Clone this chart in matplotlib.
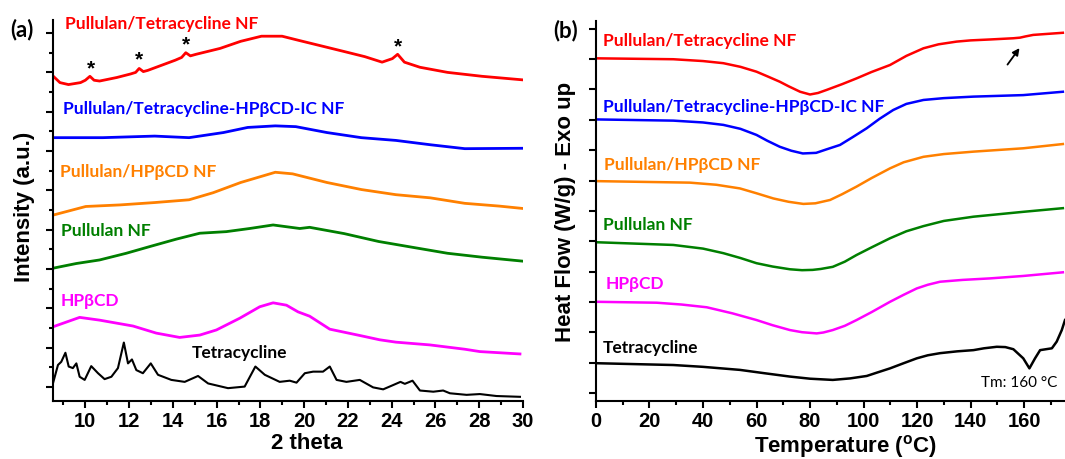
import matplotlib
matplotlib.use('Agg')
import matplotlib.pyplot as plt
from matplotlib.ticker import MultipleLocator

plt.rcParams['font.family'] = 'Liberation Sans'
plt.rcParams['font.weight'] = 'bold'
plt.rcParams['mathtext.fontset'] = 'custom'
plt.rcParams['mathtext.rm'] = 'Liberation Sans'
plt.rcParams['mathtext.bf'] = 'Liberation Sans:bold'

# ---------------- XRD data (2 theta, stacked intensity) ----------------
xrd_red_x = [8.52, 8.84, 9.23, 9.78, 10.0, 10.21, 10.4, 10.65, 11.44, 12.07, 12.3, 12.46,
             12.65, 12.85, 13.48, 14.11, 14.4, 14.59, 14.8, 15.06, 16.16, 17.10, 18.05,
             18.99, 19.78, 20.88, 21.83, 22.77, 23.56, 24.03, 24.27, 24.58, 25.29, 26.55,
             28.13, 29.98]
xrd_red_y = [7.91, 7.74, 7.69, 7.74, 7.80, 7.90, 7.80, 7.78, 7.87, 7.96, 8.00, 8.10,
             8.02, 8.05, 8.18, 8.31, 8.38, 8.50, 8.42, 8.46, 8.61, 8.79, 8.92,
             8.92, 8.81, 8.66, 8.53, 8.40, 8.26, 8.35, 8.46, 8.26, 8.13, 8.00,
             7.90, 7.81]

xrd_blue_x = [8.52, 10.8, 13.17, 14.74, 16.31, 17.42, 18.68, 19.62, 21.04, 22.61, 24.19,
              25.76, 27.34, 29.98]
xrd_blue_y = [6.34, 6.34, 6.38, 6.34, 6.47, 6.60, 6.64, 6.62, 6.47, 6.34, 6.27,
              6.16, 6.06, 6.07]

xrd_orange_x = [8.52, 10.02, 11.59, 13.17, 14.74, 15.84, 17.10, 18.68, 19.47, 21.04, 22.62,
                24.19, 25.76, 27.34, 28.91, 29.98]
xrd_orange_y = [4.37, 4.59, 4.63, 4.69, 4.76, 4.94, 5.20, 5.46, 5.42, 5.20, 5.02,
                4.89, 4.81, 4.67, 4.60, 4.54]

xrd_green_x = [8.52, 9.59, 10.65, 11.87, 12.94, 14.16, 15.23, 16.44, 17.51, 18.58, 19.80,
               20.25, 21.83, 23.40, 24.97, 26.55, 28.13, 29.98]
xrd_green_y = [3.02, 3.14, 3.23, 3.40, 3.57, 3.76, 3.91, 3.95, 4.03, 4.12, 4.03,
               4.06, 3.90, 3.70, 3.55, 3.40, 3.30, 3.20]

xrd_mag_x = [8.52, 9.74, 10.65, 12.18, 13.24, 14.31, 15.23, 15.99, 17.06, 17.97, 18.58,
             19.19, 19.72, 20.25, 21.17, 22.62, 23.45, 24.19, 25.74, 27.34, 28.03, 29.86]
xrd_mag_y = [1.53, 1.77, 1.70, 1.55, 1.37, 1.26, 1.32, 1.45, 1.75, 2.04, 2.14,
             2.08, 1.91, 1.80, 1.47, 1.30, 1.20, 1.14, 1.07, 0.96, 0.90, 0.84]

xrd_blk_x = [8.52, 8.75, 8.90, 9.09, 9.24, 9.43, 9.59, 9.74, 9.97, 10.27, 10.58, 10.88,
             11.19, 11.49, 11.76, 11.95, 12.13, 12.33, 12.63, 12.99, 13.32, 13.93, 14.54,
             15.15, 15.61, 16.52, 17.28, 17.77, 18.20, 18.88, 19.34, 19.65, 20.03, 20.41,
             20.86, 21.17, 21.48, 21.93, 22.54, 23.15, 23.61, 24.07, 24.40, 24.60, 24.95,
             25.29, 25.90, 26.35, 26.66, 27.42, 28.03, 28.79, 29.86]
xrd_blk_y = [0.09, 0.56, 0.64, 0.87, 0.52, 0.48, 0.60, 0.26, 0.18, 0.53, 0.35, 0.20,
             0.26, 0.48, 1.13, 0.60, 0.70, 0.43, 0.35, 0.60, 0.31, 0.18, 0.13,
             0.28, 0.09, -0.03, 0.01, 0.52, 0.31, 0.13, 0.16, 0.11, 0.35, 0.39,
             0.39, 0.52, 0.18, 0.13, 0.18, -0.01, -0.06, 0.05, 0.13, 0.08, 0.16,
             -0.09, -0.12, -0.09, -0.16, -0.20, -0.18, -0.23, -0.25]

star_x = [10.26, 12.43, 14.59, 24.27]
star_y = [8.09, 8.31, 8.70, 8.66]

# ---------------- DSC data (temperature, stacked heat flow) ----------------
dsc_red_t = [0, 28.9, 40, 47.6, 54, 60, 64, 68.7, 72, 76.3, 80, 83, 86.2, 92, 97.4, 103,
             109.9, 116, 122.4, 128, 134.8, 140, 147.3, 156, 158.5, 160.5, 163.4, 174.5]
dsc_red_y = [11.02, 10.99, 10.93, 10.86, 10.74, 10.58, 10.43, 10.25, 10.10, 9.92, 9.83, 9.88,
             9.98, 10.17, 10.36, 10.57, 10.80, 11.10, 11.35, 11.48, 11.57, 11.61, 11.64,
             11.68, 11.70, 11.74, 11.79, 11.86]

dsc_blue_t = [0, 28.9, 40, 47.6, 54, 60, 64, 68.7, 73, 77.3, 82.3, 86, 91.2, 96, 101.2, 106,
              111.1, 116, 122.4, 130, 141.1, 159.7, 174.5]
dsc_blue_y = [9.01, 8.97, 8.91, 8.83, 8.70, 8.50, 8.31, 8.11, 7.98, 7.89, 7.91, 8.02, 8.17,
              8.43, 8.72, 9.03, 9.32, 9.52, 9.65, 9.71, 9.76, 9.81, 9.92]

dsc_orange_t = [0, 35.1, 45, 53.8, 60, 66.3, 72, 77.5, 82, 87.5, 92, 97.4, 103, 109.9, 115,
                122.4, 130, 141.1, 159.7, 174.5]
dsc_orange_y = [6.98, 6.93, 6.86, 6.74, 6.58, 6.41, 6.30, 6.23, 6.25, 6.36, 6.55, 6.80, 7.08,
                7.40, 7.60, 7.78, 7.87, 7.95, 8.06, 8.20]

dsc_green_t = [0, 28.9, 40, 47.6, 54, 60, 66, 72.5, 77, 81, 84, 88.5, 93, 97.4, 103, 109.9,
               116, 122.4, 130, 141.1, 159.7, 174.5]
dsc_green_y = [4.97, 4.88, 4.76, 4.61, 4.45, 4.28, 4.17, 4.08, 4.05, 4.06, 4.09, 4.16, 4.33,
               4.55, 4.80, 5.10, 5.33, 5.50, 5.67, 5.81, 5.97, 6.09]

dsc_mag_t = [0, 22.7, 32, 41.4, 51, 60, 66, 72.5, 77, 82.5, 85, 88.5, 93, 97.4, 103, 109.9,
             115, 119.9, 124, 128.6, 137, 147.3, 159.7, 174.5]
dsc_mag_y = [3.01, 2.98, 2.92, 2.83, 2.63, 2.41, 2.24, 2.08, 2.01, 1.97, 2.00, 2.08, 2.22,
             2.41, 2.67, 3.01, 3.24, 3.45, 3.57, 3.67, 3.73, 3.78, 3.86, 3.98]

dsc_blk_t = [0, 28.9, 40, 53.8, 63, 72.5, 80, 88.5, 95, 101.2, 105, 109.9, 115, 119.9, 124,
             128.6, 135, 141.1, 145, 149.8, 153, 156, 159.7, 162, 164.1, 166, 170.4, 172.2,
             174.1, 175.3]
dsc_blk_y = [0.99, 0.93, 0.87, 0.77, 0.66, 0.55, 0.48, 0.44, 0.49, 0.57, 0.68, 0.82, 0.99,
             1.15, 1.25, 1.32, 1.38, 1.42, 1.48, 1.53, 1.52, 1.45, 1.15, 0.82, 1.15, 1.42,
             1.48, 1.70, 2.08, 2.41]

labels = ['Pullulan/Tetracycline NF', 'Pullulan/Tetracycline-HP\u03b2CD-IC NF',
          'Pullulan/HP\u03b2CD NF', 'Pullulan NF', 'HP\u03b2CD', 'Tetracycline']
colors = ['#ff0000', '#0000ff', '#ff8000', '#007f00', '#ff00ff', '#000000']

# label anchor points (left edge, vertical centre) in data coords
lab_a_x = [9.05, 8.99, 8.84, 8.87, 8.87, 14.84]
lab_a_y = [9.24, 7.06, 5.46, 3.96, 2.19, 0.86]
lab_b_x = [2.5, 2.5, 3.0, 2.6, 3.6, 2.6]
lab_b_y = [11.6, 9.43, 7.51, 5.54, 3.6, 1.48]

fig = plt.figure(figsize=(10.65, 4.59), dpi=100)
ax1 = fig.add_axes([0.0493, 0.1264, 0.4418, 0.829])
ax2 = fig.add_axes([0.5596, 0.1264, 0.4404, 0.828])

labfont = {'family': 'Liberation Sans', 'weight': 'bold', 'size': 16}

# ---- (a) XRD ----
xrd = [(xrd_red_x, xrd_red_y), (xrd_blue_x, xrd_blue_y), (xrd_orange_x, xrd_orange_y),
       (xrd_green_x, xrd_green_y), (xrd_mag_x, xrd_mag_y), (xrd_blk_x, xrd_blk_y)]
for (xx, yy), c in zip(xrd, colors):
    ax1.plot(xx, yy, color=c, lw=1.5 if c == '#000000' else 2.0)
for i in range(6):
    ax1.text(lab_a_x[i], lab_a_y[i], labels[i], color=colors[i], family='Lato',
             weight='bold', fontsize=12.5, ha='left', va='center')
for sx, sy in zip(star_x, star_y):
    ax1.text(sx, sy, '*', color='black', family='Liberation Sans', weight='bold',
             fontsize=15, ha='center', va='center')

ax1.set_xlim(8.5, 30)
ax1.set_ylim(-0.356, 9.32)
ax1.xaxis.set_major_locator(MultipleLocator(2))
ax1.xaxis.set_minor_locator(MultipleLocator(1))
ax1.yaxis.set_major_locator(MultipleLocator(1))
ax1.yaxis.set_minor_locator(MultipleLocator(0.5))
ax1.set_yticklabels([])
ax1.set_xlabel('2 theta', **labfont)
ax1.xaxis.set_label_coords(0.541, -0.083)
ax1.text(-0.06, 0.51, 'Intensity (a.u.)', transform=ax1.transAxes, rotation=90,
         ha='center', va='center', **labfont)
ax1.text(-0.064, 0.976, '(a)', transform=ax1.transAxes, ha='center', va='center',
         family='Lato', weight='bold', fontsize=16)

# ---- (b) DSC ----
dsc = [(dsc_red_t, dsc_red_y), (dsc_blue_t, dsc_blue_y), (dsc_orange_t, dsc_orange_y),
       (dsc_green_t, dsc_green_y), (dsc_mag_t, dsc_mag_y), (dsc_blk_t, dsc_blk_y)]
for (xx, yy), c in zip(dsc, colors):
    ax2.plot(xx, yy, color=c, lw=1.8)
for i in range(6):
    ax2.text(lab_b_x[i], lab_b_y[i], labels[i], color=colors[i], family='Lato',
             weight='bold', fontsize=12.5, ha='left', va='center')
ax2.text(144.0, 0.35, 'Tm: 160 \u00b0C', family='Lato', weight='normal', fontsize=11,
         ha='left', va='center')
ax2.annotate('', xy=(158.9, 11.43), xytext=(153.2, 10.74),
             arrowprops=dict(arrowstyle='-|>', color='black', lw=1.3, mutation_scale=10))

ax2.set_xlim(0, 175.3)
ax2.set_ylim(-0.253, 12.25)
ax2.xaxis.set_major_locator(MultipleLocator(20))
ax2.xaxis.set_minor_locator(MultipleLocator(10))
ax2.yaxis.set_major_locator(MultipleLocator(1))
ax2.set_yticklabels([])
ax2.set_xlabel(r'Temperature ($^{\mathbf{o}}$C)', **labfont)
ax2.xaxis.set_label_coords(0.533, -0.083)
ax2.text(-0.066, 0.497, 'Heat Flow (W/g) - Exo up', transform=ax2.transAxes, rotation=90,
         ha='center', va='center', **labfont)
ax2.text(-0.064, 0.976, '(b)', transform=ax2.transAxes, ha='center', va='center',
         family='Lato', weight='bold', fontsize=16)

for ax in (ax1, ax2):
    ax.spines['top'].set_visible(False)
    ax.spines['right'].set_visible(False)
    for s in ('left', 'bottom'):
        ax.spines[s].set_linewidth(1.5)
    ax.tick_params(which='major', direction='out', length=5, width=1.5, labelsize=14.5)
    ax.tick_params(which='minor', direction='out', length=3, width=1.5)
    ax.tick_params(axis='x', pad=3)

fig.savefig('out.png', dpi=100)
